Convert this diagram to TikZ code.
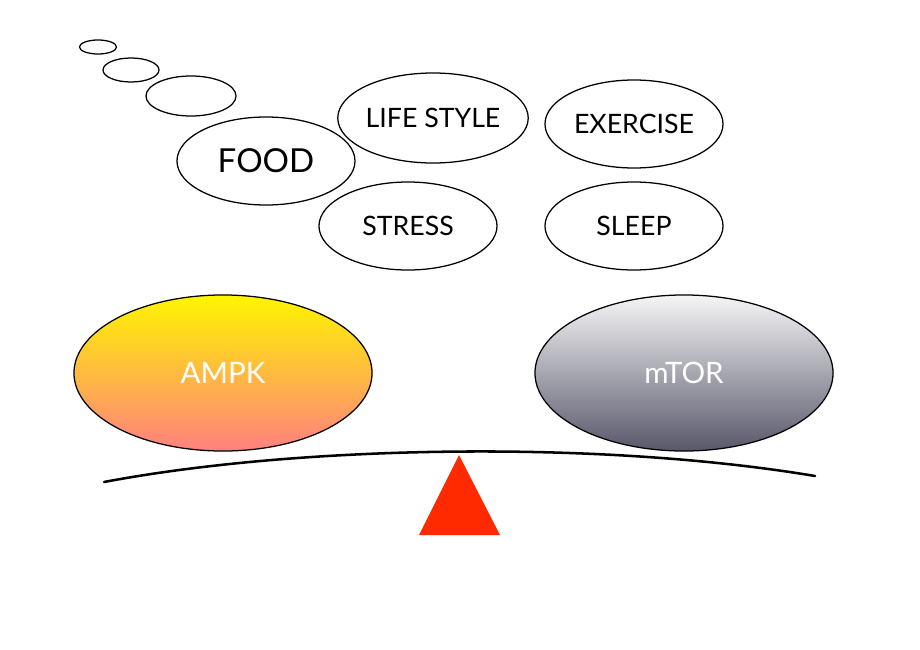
\documentclass[tikz,border=0pt]{standalone}
\usepackage{fontspec}
\setmainfont{Lato}
\usepackage{xcolor}
\usepackage{tikz}
\usetikzlibrary{shapes.geometric}

\definecolor{ampktop}{RGB}{255,245,0}
\definecolor{ampkmid}{RGB}{255,190,60}
\definecolor{ampkbot}{RGB}{255,128,128}
\definecolor{mtortop}{RGB}{245,245,247}
\definecolor{mtormid}{RGB}{170,170,180}
\definecolor{mtorbot}{RGB}{88,88,106}
\definecolor{pivotred}{RGB}{255,42,0}

\tikzset{
  bubble/.style={ellipse, draw=black, line width=0.9pt, inner sep=0pt,
    fill=white},
  thought/.style={bubble, minimum width=4.45cm, minimum height=2.2cm,
    font=\fontsize{19}{22}\selectfont},
  kinase/.style={ellipse, draw=black, line width=0.9pt, inner sep=0pt,
    minimum width=7.45cm, minimum height=3.9cm, text=white,
    font=\fontsize{21}{24}\selectfont},
}

\begin{document}
\begin{tikzpicture}[x=0.025cm, y=-0.025cm]
  \useasboundingbox (0,0) rectangle (920,650);

  % Thought trail
  \node[bubble, minimum width=0.925cm, minimum height=0.35cm] (b1) at (98,47) {};
  \node[bubble, minimum width=1.4cm, minimum height=0.6cm] (b2) at (131,70) {};
  \node[bubble, minimum width=2.25cm, minimum height=1.0cm] (b3) at (191,96) {};

  % Factors
  \node[thought, font=\fontsize{23.5}{26}\selectfont] (food) at (266,161) {FOOD};
  \node[thought, minimum width=4.5cm, minimum height=2.25cm] (life) at (433,118) {LIFE STYLE};
  \node[thought] (stress) at (408,226) {STRESS};
  \node[thought] (exercise) at (634,124) {EXERCISE};
  \node[thought] (sleep) at (634,226) {SLEEP};

  % Kinases on the balance
  \node[kinase, top color=ampktop, middle color=ampkmid, bottom color=ampkbot]
    (ampk) at (223,373) {AMPK};
  \node[kinase, top color=mtortop, middle color=mtormid, bottom color=mtorbot]
    (mtor) at (684,373) {mTOR};

  % Beam and pivot
  \coordinate (beamL) at (104,482);
  \coordinate (beamR) at (815,476);
  \draw[line width=1.8pt, line cap=round]
    (beamL) .. controls (300,445) and (600,440) .. (beamR);
  \fill[pivotred] (459,455) -- (500,535) -- (419,535) -- cycle;
\end{tikzpicture}
\end{document}
